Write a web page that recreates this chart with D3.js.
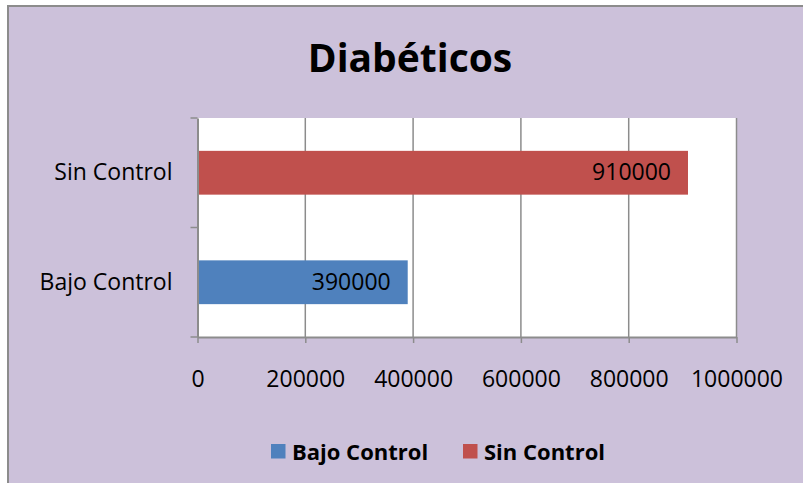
<!DOCTYPE html>
<html>
<head>
<meta charset="utf-8">
<script src="https://cdn.jsdelivr.net/npm/d3@7"></script>
<style>
  body { margin: 0; background: #fff; }
  text { font-family: "Open Sans", sans-serif; fill: #000; }
</style>
</head>
<body>
<div id="chart"></div>
<script>
// chart data
const categories = ['Sin Control', 'Bajo Control'];
const values = [910000, 390000];
const seriesColors = ['#C0504D', '#4F81BD'];
const xTicks = [0, 200000, 400000, 600000, 800000, 1000000];
const legendLabels = ['Bajo Control', 'Sin Control'];
const legendColors = ['#4F81BD', '#C0504D'];

const width = 803;
const height = 483;
const plot = { left: 197.5, right: 736.5, top: 118, bottom: 337 };
const axisColor = '#8c8c8c';

const svg = d3.select('#chart')
  .append('svg')
  .attr('width', width)
  .attr('height', height);

// chart area background
svg.append('rect')
  .attr('x', 8)
  .attr('y', 6)
  .attr('width', width)
  .attr('height', height)
  .attr('fill', '#CCC1DA')
  .attr('stroke', axisColor)
  .attr('stroke-width', 2);

svg.append('text')
  .attr('x', 410)
  .attr('y', 72)
  .attr('text-anchor', 'middle')
  .style('font-size', '39px')
  .style('font-weight', 'bold')
  .text('Diabéticos');

// scales
const x = d3.scaleLinear()
  .domain([0, 1000000])
  .range([plot.left, plot.right]);

const y = d3.scaleBand()
  .domain(categories)
  .range([plot.top, plot.bottom]);

svg.append('rect')
  .attr('x', plot.left)
  .attr('y', plot.top)
  .attr('width', plot.right - plot.left)
  .attr('height', plot.bottom - plot.top)
  .attr('fill', '#fff');

// vertical gridlines
svg.append('g')
  .selectAll('line')
  .data(xTicks.slice(1))
  .enter()
  .append('line')
  .attr('x1', d => x(d))
  .attr('x2', d => x(d))
  .attr('y1', plot.top)
  .attr('y2', plot.bottom)
  .attr('stroke', axisColor)
  .attr('stroke-width', 1.5);

// bars
const barH = y.bandwidth() * 0.4;
svg.append('g')
  .selectAll('rect')
  .data(categories)
  .enter()
  .append('rect')
  .attr('x', x(0))
  .attr('y', d => y(d) + (y.bandwidth() - barH) / 2)
  .attr('width', (d, i) => x(values[i]) - x(0))
  .attr('height', barH)
  .attr('fill', (d, i) => seriesColors[i]);

// data labels
svg.append('g')
  .selectAll('text')
  .data(categories)
  .enter()
  .append('text')
  .attr('x', (d, i) => x(values[i]) - 17)
  .attr('y', d => y(d) + y.bandwidth() / 2)
  .attr('dy', '0.32em')
  .attr('text-anchor', 'end')
  .style('font-size', '23px')
  .text((d, i) => values[i]);

// bottom axis
const xAxis = svg.append('g')
  .attr('transform', `translate(0, ${plot.bottom})`)
  .call(d3.axisBottom(x)
    .tickValues(xTicks)
    .tickFormat(d3.format('d'))
    .tickSize(6)
    .tickPadding(28)
    .tickSizeOuter(0));
xAxis.select('.domain').attr('stroke', axisColor).attr('stroke-width', 2);
xAxis.selectAll('.tick line').attr('stroke', axisColor).attr('stroke-width', 1.5);
xAxis.selectAll('text')
  .style('font-size', '23px')
  .style('font-family', '"Open Sans", sans-serif');

// left axis
const yAxis = svg.append('g')
  .attr('transform', `translate(${plot.left}, 0)`)
  .call(d3.axisLeft(y).tickSize(0).tickPadding(25));
yAxis.select('.domain').attr('stroke', axisColor).attr('stroke-width', 2);
yAxis.selectAll('text')
  .style('font-size', '23px')
  .style('font-family', '"Open Sans", sans-serif');

// category boundary ticks
const bounds = categories.map(d => y(d)).concat([plot.bottom]);
yAxis.selectAll('.bound')
  .data(bounds)
  .enter()
  .append('line')
  .attr('class', 'bound')
  .attr('x1', -7)
  .attr('x2', 0)
  .attr('y1', d => d)
  .attr('y2', d => d)
  .attr('stroke', axisColor)
  .attr('stroke-width', 1.5);

// legend
const legendX = [271, 463];
const legend = svg.append('g')
  .selectAll('g')
  .data(legendLabels)
  .enter()
  .append('g')
  .attr('transform', (d, i) => `translate(${legendX[i]}, 444)`);
legend.append('rect')
  .attr('width', 14.5)
  .attr('height', 14.5)
  .attr('fill', (d, i) => legendColors[i]);
legend.append('text')
  .attr('x', 21)
  .attr('y', 16)
  .style('font-size', '22px')
  .style('font-weight', 'bold')
  .text(d => d);
</script>
</body>
</html>
